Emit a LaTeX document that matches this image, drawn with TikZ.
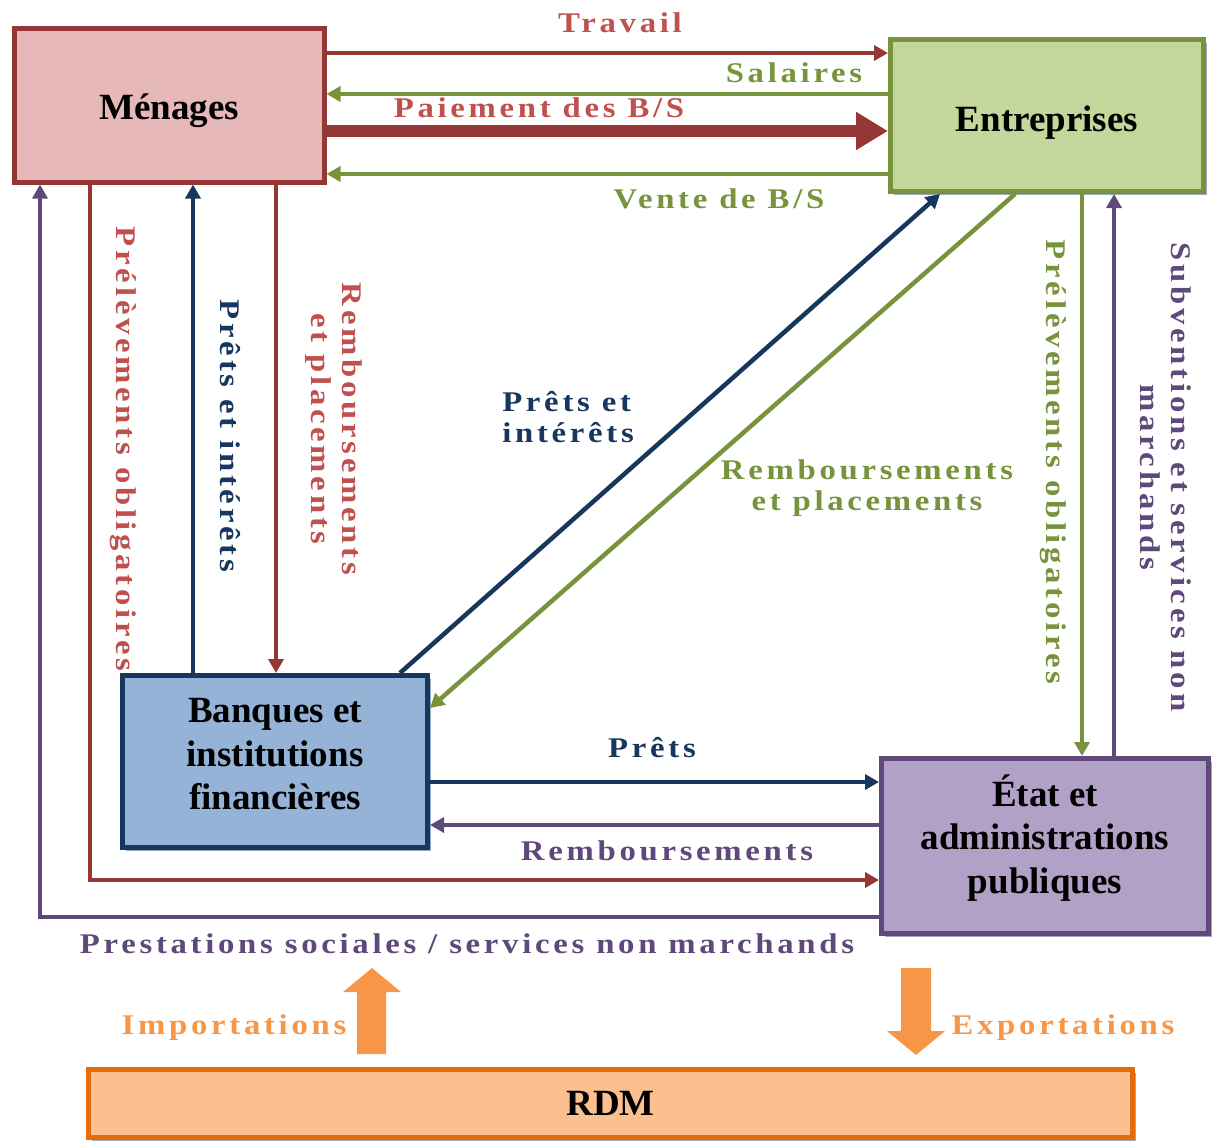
\documentclass[tikz,border=0pt]{standalone}
\usepackage{fontspec}
\setmainfont{Liberation Serif}
\newfontfamily\labfont[LetterSpace=13,FakeStretch=1.15]{Liberation Serif}
\usetikzlibrary{arrows.meta,shadows}
\definecolor{menF}{HTML}{E6B8B7}
\definecolor{menD}{HTML}{953735}
\definecolor{entF}{HTML}{C3D69B}
\definecolor{entD}{HTML}{77933C}
\definecolor{banF}{HTML}{95B3D7}
\definecolor{banD}{HTML}{17375E}
\definecolor{etaF}{HTML}{B2A1C7}
\definecolor{etaD}{HTML}{5F497A}
\definecolor{rdmF}{HTML}{FAC090}
\definecolor{rdmD}{HTML}{E46C0A}
\definecolor{orA}{HTML}{F79646}
\definecolor{redT}{HTML}{C0504D}
\definecolor{shd}{HTML}{9AA9BF}
\begin{document}
\begin{tikzpicture}[x=1pt,y=-1pt,
  box/.style={draw, line width=5pt, inner sep=0pt, align=center,
    font=\fontsize{37}{43.5}\selectfont\bfseries, text=black,
    drop shadow={shadow xshift=3pt, shadow yshift=-3pt, fill=shd, opacity=1}},
  conn/.style={line width=4.5pt, -{Triangle[length=14pt,width=15pt]}},
  bigconn/.style={line width=12pt, -{Triangle[length=32pt,width=36pt]}},
  lab/.style={font=\labfont\fontsize{28.5}{31}\selectfont\bfseries, inner sep=0pt, align=center},
]
\useasboundingbox (0,0) rectangle (1214,1144);

% boxes
\node[box, fill=menF, draw=menD, minimum width=310pt, minimum height=154pt, text height=28pt, text depth=0pt] (men) at (169,105) {Ménages};
\node[box, fill=entF, draw=entD, minimum width=313pt, minimum height=152pt, text height=31pt, text depth=0pt] (ent) at (1047,115.5) {Entreprises};
\node[box, fill=banF, draw=banD, minimum width=305pt, minimum height=172pt] (ban) at (275,761.5) {Banques et\\institutions\\financières\rule[-15pt]{0pt}{0pt}};
\node[box, fill=etaF, draw=etaD, minimum width=327pt, minimum height=175pt] (eta) at (1045,846) {État et\\administrations\\publiques\rule[-24pt]{0pt}{0pt}};
\node[box, fill=rdmF, draw=rdmD, minimum width=1044pt, minimum height=68pt] (rdm) at (610.5,1103.5) {RDM};

% helper levels
\coordinate (yTr) at (0,53);
\coordinate (ySal) at (0,94);
\coordinate (yPai) at (0,131);
\coordinate (yVen) at (0,174);
\coordinate (yPr) at (0,782);
\coordinate (yRe) at (0,825);
\coordinate (yRo) at (0,880);
\coordinate (yPs) at (0,917);
\coordinate (yD) at (0,708);
\coordinate (xP1) at (40,0);
\coordinate (xR1) at (90,0);
\coordinate (xN1) at (193,0);
\coordinate (xR2) at (276,0);
\coordinate (xD1) at (400,0);
\coordinate (xD2) at (940,0);
\coordinate (xD3) at (1015,0);
\coordinate (xG) at (1082,0);
\coordinate (xPu) at (1114,0);

% top flows
\draw[conn, draw=menD] (men.east |- yTr) -- (ent.west |- yTr);
\draw[conn, draw=entD] (ent.west |- ySal) -- (men.east |- ySal);
\draw[bigconn, draw=menD] (men.east |- yPai) -- (ent.west |- yPai);
\draw[conn, draw=entD] (ent.west |- yVen) -- (men.east |- yVen);

% left side
\draw[conn, draw=etaD] (eta.west |- yPs) -- (xP1 |- yPs) -- (xP1 |- men.south);
\draw[conn, draw=menD] (xR1 |- men.south) -- (xR1 |- yRo) -- (eta.west |- yRo);
\draw[conn, draw=banD] (xN1 |- ban.north) -- (xN1 |- men.south);
\draw[conn, draw=menD] (xR2 |- men.south) -- (xR2 |- ban.north);

% bank - state
\draw[conn, draw=banD] (ban.east |- yPr) -- (eta.west |- yPr);
\draw[conn, draw=etaD] (eta.west |- yRe) -- (ban.east |- yRe);

% diagonals
\draw[conn, draw=banD] (xD1 |- ban.north) -- (xD2 |- ent.south);
\draw[conn, draw=entD] (xD3 |- ent.south) -- (ban.east |- yD);

% right side
\draw[conn, draw=entD] (xG |- ent.south) -- (xG |- eta.north);
\draw[conn, draw=etaD] (xPu |- eta.north) -- (xPu |- ent.south);

% orange block arrows
\fill[orA] (357,1054) -- (386,1054) -- (386,992) -- (401,992) -- (372,968) -- (343,992) -- (357,992) -- cycle;
\fill[orA] (901,968) -- (931,968) -- (931,1031) -- (945,1031) -- (916,1055) -- (887,1031) -- (901,1031) -- cycle;

% labels
\node[lab, text=redT] (lTr) at (620,23) {Travail};
\node[lab, text=entD] (lSal) at (794,73) {Salaires};
\node[lab, text=redT] (lPai) at (539,108) {Paiement des B/S};
\node[lab, text=entD] (lVen) at (719,199) {Vente de B/S};
\node[lab, text=banD, align=left] (lPi) at (568,417) {Prêts et\\intérêts};
\node[lab, text=entD] (lRp) at (867,488) {Remboursements\\et placements};
\node[lab, text=banD] (lPr) at (652,748) {Prêts};
\node[lab, text=etaD] (lRe) at (667,851) {Remboursements};
\node[lab, text=etaD] (lPs) at (467,944) {Prestations sociales / services non marchands};
\node[lab, text=orA] (lIm) at (234,1028) {Importations};
\node[lab, text=orA] (lEx) at (1063,1028) {Exportations};

% vertical labels
\node[lab, text=redT, rotate=-90] (vPo) at (123,449) {Prélèvements obligatoires};
\node[lab, text=banD, rotate=-90] (vPi) at (230,436) {Prêts et intérêts};
\node[lab, text=redT, rotate=-90] (vRp) at (334,429) {Remboursements\\et placements};
\node[lab, text=entD, rotate=-90] (vPo2) at (1053,462) {Prélèvements obligatoires};
\node[lab, text=etaD, rotate=-90] (vSub) at (1166,477) {Subventions et services non\\marchands};
\end{tikzpicture}
\end{document}
